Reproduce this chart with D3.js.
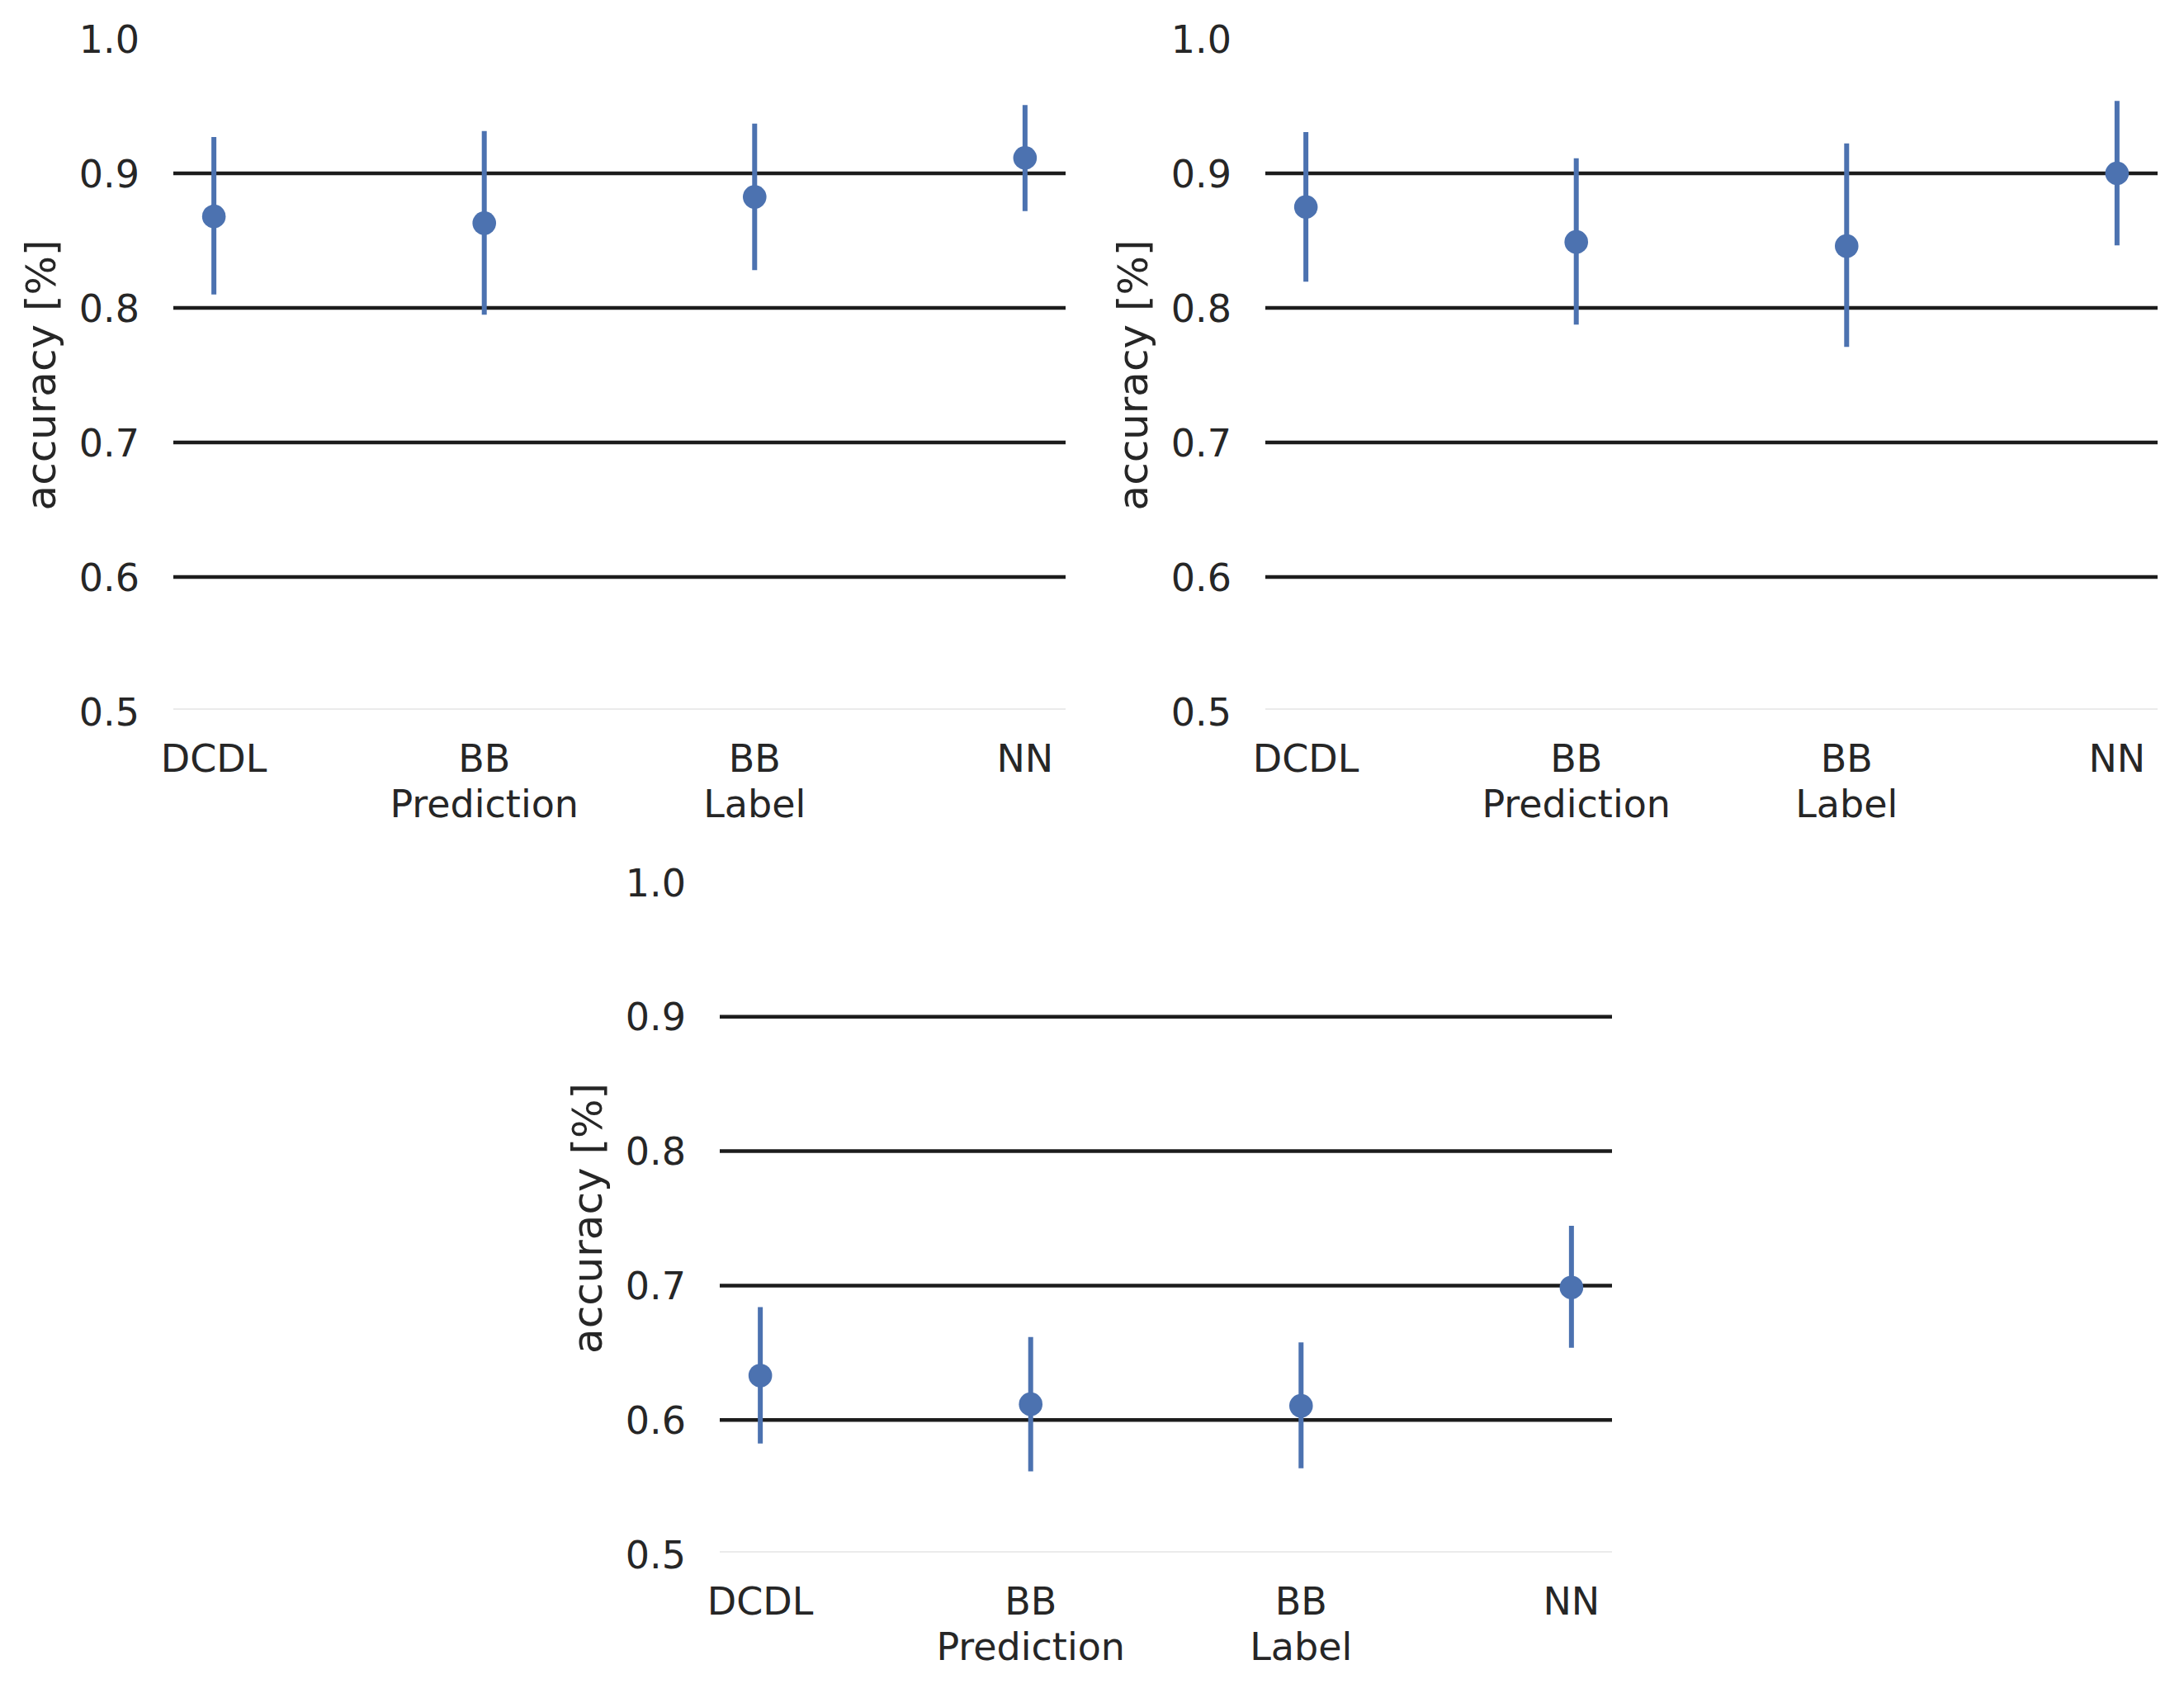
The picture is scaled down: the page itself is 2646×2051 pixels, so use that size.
<!DOCTYPE html>
<html>
<head>
<meta charset="utf-8">
<script src="https://cdn.jsdelivr.net/npm/d3@7"></script>
<style>
  body { margin: 0; background: #fff; }
  text { font-family: "DejaVu Sans", sans-serif; fill: #262626; }
</style>
</head>
<body>
<div id="chart"></div>
<script>
// categories and tick values
const categories = [["DCDL"], ["BB", "Prediction"], ["BB", "Label"], ["NN"]]
const yTicks = [0.5, 0.6, 0.7, 0.8, 0.9, 1.0]

// panel 1 (top left)
const meanA = [0.868, 0.863, 0.8825, 0.9115]
const lowA = [0.810, 0.795, 0.828, 0.872]
const highA = [0.927, 0.9315, 0.937, 0.9507]

// panel 2 (top right)
const meanB = [0.875, 0.849, 0.846, 0.900]
const lowB = [0.8195, 0.7876, 0.771, 0.8465]
const highB = [0.9306, 0.9112, 0.9223, 0.9538]

// panel 3 (bottom)
const meanC = [0.633, 0.6117, 0.6105, 0.6986]
const lowC = [0.5825, 0.5617, 0.5641, 0.6537]
const highC = [0.6839, 0.6617, 0.6577, 0.7445]

const W = 2646, H = 2051
const svg = d3.select("#chart").append("svg")
    .attr("width", W)
    .attr("height", H)

const panels = [
    {left: 210, top: 47, bottom: 862, mean: meanA, low: lowA, high: highA},
    {left: 1533, top: 47, bottom: 862, mean: meanB, low: lowB, high: highB},
    {left: 872, top: 1069, bottom: 1883, mean: meanC, low: lowC, high: highC}
]
const plotWidth = 1081
const blue = "#4c72b0"

panels.forEach(function(p) {
    let g = svg.append("g")
    let x = d3.scaleLinear().domain([-0.15, 3.15]).range([p.left, p.left + plotWidth])
    let y = d3.scaleLinear().domain([0.5, 1.0]).range([p.bottom, p.top])

    // horizontal grid lines
    g.selectAll(".grid")
        .data(yTicks.filter(t => t > 0.55 && t < 0.95))
        .join("line")
        .attr("x1", p.left)
        .attr("x2", p.left + plotWidth)
        .attr("y1", d => y(d))
        .attr("y2", d => y(d))
        .attr("stroke", "#1c1c1c")
        .attr("stroke-width", 4.5)

    // faint bottom edge
    g.append("line")
        .attr("x1", p.left)
        .attr("x2", p.left + plotWidth)
        .attr("y1", y(0.5) - 3)
        .attr("y2", y(0.5) - 3)
        .attr("stroke", "#ebebeb")
        .attr("stroke-width", 2)

    // y tick labels
    g.selectAll(".ytick")
        .data(yTicks)
        .join("text")
        .attr("x", p.left - 41)
        .attr("y", d => y(d))
        .attr("dy", "0.36em")
        .attr("text-anchor", "end")
        .style("font-size", "46px")
        .text(d => d3.format(".1f")(d))

    // x tick labels
    categories.forEach(function(lines, i) {
        let t = g.append("text")
            .attr("x", x(i))
            .attr("y", y(0.5) + 73)
            .attr("text-anchor", "middle")
            .style("font-size", "46px")
        lines.forEach(function(s, j) {
            t.append("tspan")
                .attr("x", x(i))
                .attr("dy", j === 0 ? 0 : 55)
                .text(s)
        })
    })

    // y axis label
    g.append("text")
        .attr("transform", "translate(" + (p.left - 143) + "," + ((p.top + p.bottom) / 2) + ") rotate(-90)")
        .attr("text-anchor", "middle")
        .style("font-size", "50px")
        .text("accuracy [%]")

    // error bars
    g.selectAll(".err")
        .data(p.mean)
        .join("line")
        .attr("x1", (d, i) => x(i))
        .attr("x2", (d, i) => x(i))
        .attr("y1", (d, i) => y(p.low[i]))
        .attr("y2", (d, i) => y(p.high[i]))
        .attr("stroke", blue)
        .attr("stroke-width", 6)

    // points
    g.selectAll(".pt")
        .data(p.mean)
        .join("circle")
        .attr("cx", (d, i) => x(i))
        .attr("cy", d => y(d))
        .attr("r", 14.3)
        .attr("fill", blue)
})
</script>
</body>
</html>
